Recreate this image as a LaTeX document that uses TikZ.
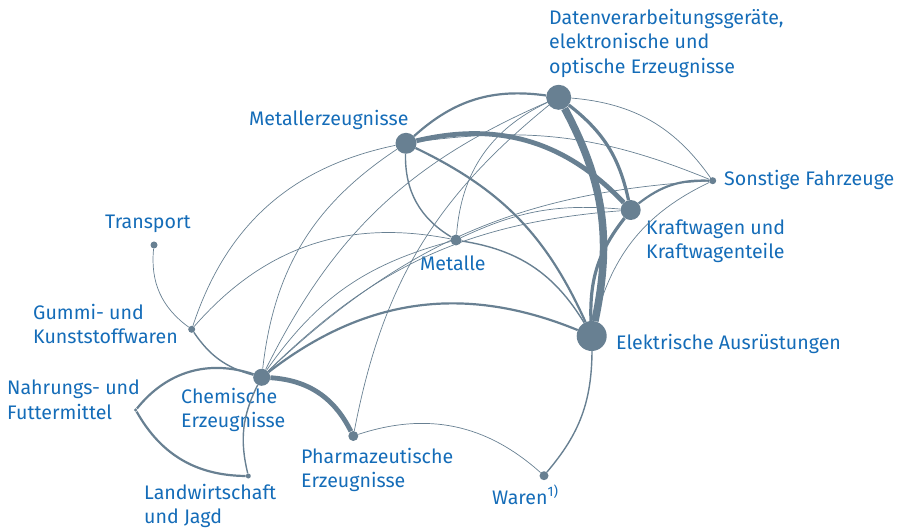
\documentclass[tikz,border=0pt]{standalone}
\usepackage{fontspec}
\setmainfont{Fira Sans}
\usetikzlibrary{positioning}
\definecolor{linkgray}{RGB}{104,128,146}
\definecolor{labelblue}{RGB}{20,108,184}

\begin{document}
\begin{tikzpicture}[
    x=1pt, y=-1pt,
    hub/.style={circle, fill=linkgray, inner sep=0pt},
    lbl/.style={anchor=west, align=left, inner sep=0pt, text=labelblue, font=\fontsize{19.6}{24.5}\selectfont},
    lnA/.style={draw=linkgray, line width=0.7pt},
    lnB/.style={draw=linkgray, line width=1.4pt},
    lnC/.style={draw=linkgray, line width=2.2pt},
    lnD/.style={draw=linkgray, line width=3.2pt},
    lnE/.style={draw=linkgray, line width=4.8pt},
    lnF/.style={draw=linkgray, line width=7.5pt}
  ]
    \useasboundingbox (0,0) rectangle (903,529);

    % industries
    \node[hub, minimum size=25pt] (dv) at (558.7,97.3) {};
    \node[hub, minimum size=21pt] (me) at (406,143.3) {};
    \node[hub, minimum size=20pt] (kw) at (630.7,210) {};
    \node[hub, minimum size=7pt] (sf) at (712.7,180.7) {};
    \node[hub, minimum size=30pt] (ea) at (591.7,336) {};
    \node[hub, minimum size=11pt] (mt) at (456,240) {};
    \node[hub, minimum size=7pt] (tr) at (154,245) {};
    \node[hub, minimum size=7pt] (gk) at (191.7,329.3) {};
    \node[hub, minimum size=17pt] (ch) at (261.7,377.3) {};
    \node[hub, minimum size=3.5pt] (nf) at (135.7,410) {};
    \node[hub, minimum size=5pt] (lj) at (248.3,476) {};
    \node[hub, minimum size=10pt] (ph) at (353.3,436) {};
    \node[hub, minimum size=9pt] (wa) at (544,475.7) {};

    % labels
    \node[lbl] (dvlbl) at (549,43) {Datenverarbeitungsgeräte,\\elektronische und\\optische Erzeugnisse};
    \node[lbl] (melbl) at (249,120) {Metallerzeugnisse};
    \node[lbl] (trlbl) at (105,224) {Transport};
    \node[lbl] (sflbl) at (724,180) {Sonstige Fahrzeuge};
    \node[lbl] (kwlbl) at (646,241) {Kraftwagen und\\Kraftwagenteile};
    \node[lbl] (mtlbl) at (420,263) {Metalle};
    \node[lbl] (gklbl) at (33,324) {Gummi- und\\Kunststoffwaren};
    \node[lbl] (ealbl) at (616,344) {Elektrische Ausrüstungen};
    \node[lbl] (nflbl) at (7,400) {Nahrungs- und\\Futtermittel};
    \node[lbl] (chlbl) at (181,410) {Chemische\\Erzeugnisse};
    \node[lbl] (phlbl) at (301,470) {Pharmazeutische\\Erzeugnisse};
    \node[lbl] (ljlbl) at (144,506) {Landwirtschaft\\und Jagd};
    \node[lbl] (walbl) at (492,495) {Waren\textsuperscript{1)}};

    % links
    \draw[lnA] (tr) to[bend right=30] (gk);
    \draw[lnA] (gk) to[bend left=30] (me);
    \draw[lnA] (gk) to[bend left=30] (mt);
    \draw[lnB] (gk) to[bend right=20] (ch);
    \draw[lnC] (ch) to[bend right=35] (nf);
    \draw[lnC] (nf) to[bend right=30] (lj);
    \draw[lnB] (ch) to[bend right=20] (lj);
    \draw[lnE] (ch) to[bend left=30] (ph);
    \draw[lnA] (ch) to[bend left=25] (me);
    \draw[lnA] (ch) to[bend left=20] (dv);
    \draw[lnA] (ch) to[bend left=20] (mt);
    \draw[lnA] (ch) to[bend left=20] (kw);
    \draw[lnA] (ch) to[bend left=20] (sf);
    \draw[lnC] (ch) to[bend left=30] (ea);
    \draw[lnA] (ph) to[bend left=30] (wa);
    \draw[lnA] (ph) to[bend left=20] (dv);
    \draw[lnB] (wa) to[bend right=20] (ea);
    \draw[lnB] (me) to[bend right=30] (mt);
    \draw[lnC] (me) to[bend left=25] (dv);
    \draw[lnE] (me) to[bend left=30] (kw);
    \draw[lnC] (me) to[bend left=20] (ea);
    \draw[lnA] (me) to[bend left=15] (sf);
    \draw[lnA] (mt) to[bend left=30] (dv);
    \draw[lnA] (mt) to[bend left=15] (kw);
    \draw[lnB] (mt) to[bend left=25] (ea);
    \draw[lnF] (dv) to[bend left=20] (ea);
    \draw[lnD] (dv) to[bend left=20] (kw);
    \draw[lnA] (dv) to[bend left=25] (sf);
    \draw[lnD] (kw) to[bend right=20] (ea);
    \draw[lnC] (kw) to[bend left=20] (sf);
    \draw[lnA] (ea) to[bend left=25] (sf);
  \end{tikzpicture}
\end{document}
